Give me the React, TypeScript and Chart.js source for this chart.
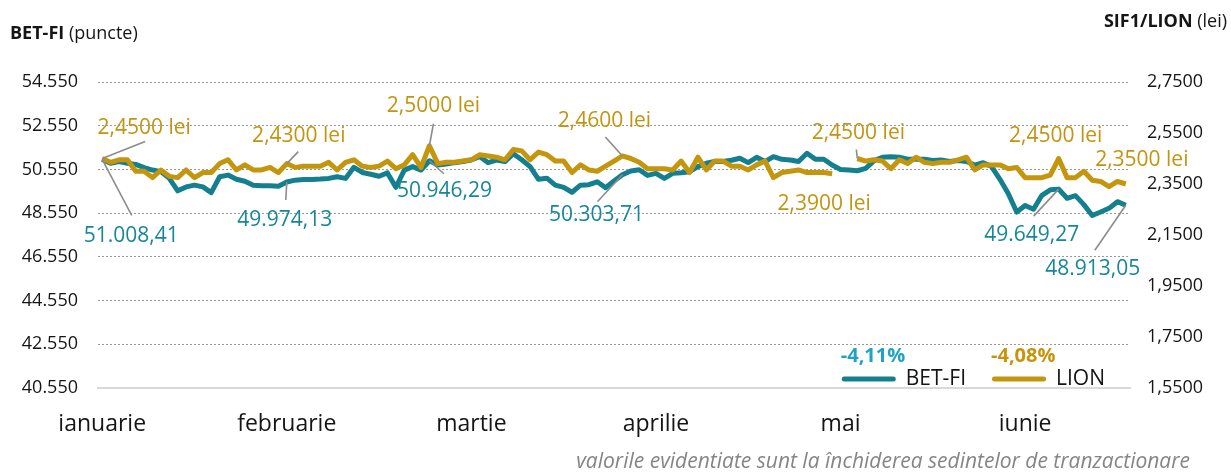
import React, { useEffect, useRef } from 'react';
import { Chart, registerables } from 'chart.js';

Chart.register(...registerables);

const FONT = '"Open Sans", "Noto Sans", sans-serif';

// ---------- data ----------
const monthLabels = ['ianuarie', 'februarie', 'martie', 'aprilie', 'mai', 'iunie'];
const monthTickIndex = [0, 22, 44, 66, 88, 110];

const leftTickValues = [40550, 42550, 44550, 46550, 48550, 50550, 52550, 54550];
const rightTickValues = [1.55, 1.75, 1.95, 2.15, 2.35, 2.55, 2.75];

const betFi: number[] = [
  51008.41, 50830, 50910, 50830, 50780, 50630, 50520, 50450, 50140, 49570,
  49750, 49830, 49750, 49490, 50215, 50290, 50100, 50010, 49830, 49800,
  49800, 49780, 49974.13, 50060, 50090, 50090, 50110, 50140, 50215, 50140,
  50645, 50410, 50330, 50240, 50390, 49730, 50520, 50680, 50520, 50946.29,
  50750, 50800, 50860, 50910, 50980, 51140, 50860, 50980, 50910, 51270,
  50990, 50680, 50100, 50150, 49830, 49730, 49505, 49830, 49850, 49985,
  49715, 50020, 50303.71, 50480, 50535, 50275, 50370, 50140, 50370, 50400,
  50445, 50680, 50830, 50910, 50910, 50970, 51060, 50860, 51105, 50910,
  51135, 51015, 50980, 50910, 51290, 51015, 51015, 50750, 50550, 50520,
  50490, 50600, 50955, 51105, 51135, 51105, 51015, 51015, 51015, 50955,
  50980, 50910, 50955, 50910, 50750, 50860, 50680, 50100, 49440, 48600,
  48900, 48730, 49365, 49615, 49649.27, 49230, 49350, 48940, 48440, 48600,
  48770, 49075, 48913.05,
];

const lion: (number | null)[] = [
  2.45, 2.435, 2.445, 2.445, 2.4, 2.4, 2.375, 2.405, 2.38, 2.375,
  2.405, 2.375, 2.395, 2.395, 2.43, 2.445, 2.405, 2.425, 2.405, 2.405,
  2.415, 2.395, 2.43, 2.415, 2.42, 2.42, 2.42, 2.435, 2.405, 2.435,
  2.445, 2.42, 2.415, 2.42, 2.44, 2.41, 2.425, 2.465, 2.415, 2.5,
  2.43, 2.435, 2.435, 2.44, 2.445, 2.465, 2.46, 2.455, 2.445, 2.485,
  2.48, 2.445, 2.475, 2.465, 2.44, 2.44, 2.395, 2.425, 2.405, 2.4,
  2.42, 2.44, 2.46, 2.45, 2.435, 2.41, 2.41, 2.41, 2.405, 2.44,
  2.395, 2.455, 2.405, 2.44, 2.44, 2.42, 2.42, 2.405, 2.425, 2.44,
  2.375, 2.395, 2.4, 2.405, 2.395, 2.395, 2.395, 2.39, null, null,
  2.45, 2.44, 2.445, 2.44, 2.41, 2.445, 2.43, 2.455, 2.435, 2.43,
  2.435, 2.435, 2.445, 2.455, 2.405, 2.425, 2.425, 2.425, 2.41, 2.415,
  2.375, 2.375, 2.375, 2.385, 2.45, 2.375, 2.375, 2.4, 2.365, 2.36,
  2.34, 2.36, 2.35,
];

const seriesNames = ['BET-FI', 'LION'];
const footerText = 'valorile evidentiate sunt la închiderea sedintelor de tranzactionare';

const COLORS = {
  bet: '#14808F',
  lion: '#C4960E',
  betText: '#178798',
  lionText: '#C39410',
  betPct: '#1FA3C4',
  lionPct: '#C8940C',
  leader: '#8C8C8C',
  text: '#151515',
};

// annotation anchors: dataset, point index, label offset and leader end (px from point)
type Ann = { ds: 0 | 1; idx: number; dx: number; dy: number; lead?: [number, number] };
const annotations: Ann[] = [
  { ds: 1, idx: 0, dx: 42, dy: -30, lead: [43, -17] },
  { ds: 0, idx: 0, dx: 29, dy: 77, lead: [29.5, 56] },
  { ds: 1, idx: 22, dx: 12, dy: -28, lead: [11.5, -12] },
  { ds: 0, idx: 22, dx: -2, dy: 38, lead: [-1, 18] },
  { ds: 1, idx: 39, dx: 4, dy: -40, lead: [4, -22] },
  { ds: 0, idx: 39, dx: 15, dy: 30, lead: [14.5, 13] },
  { ds: 1, idx: 62, dx: -18, dy: -35, lead: [-17, -19] },
  { ds: 0, idx: 62, dx: -26, dy: 40, lead: [-25, 27] },
  { ds: 1, idx: 87, dx: -8, dy: 30 },
  { ds: 1, idx: 90, dx: 1, dy: -25, lead: [-1, -9] },
  { ds: 1, idx: 114, dx: -3, dy: -22 },
  { ds: 1, idx: 122, dx: 16, dy: -24 },
  { ds: 0, idx: 114, dx: -27, dy: 46, lead: [-25, 27] },
  { ds: 0, idx: 122, dx: -33, dy: 64, lead: [-31, 45] },
];

// ---------- helpers ----------
function fmtNum(v: number, d: number): string {
  const [i, f] = v.toFixed(d).split('.');
  const ii = i.replace(/\B(?=(\d{3})+(?!\d))/g, '.');
  return f ? ii + ',' + f : ii;
}
function pct(arr: (number | null)[]): string {
  const vals = arr.filter((v) => v !== null) as number[];
  const p = (vals[vals.length - 1] / vals[0] - 1) * 100;
  return p.toFixed(2).replace('.', ',') + '%';
}

const overlayPlugin = {
  id: 'overlay',
  afterDatasetsDraw(chart: any) {
    const ctx: CanvasRenderingContext2D = chart.ctx;
    ctx.save();
    for (const a of annotations) {
      const pt = chart.getDatasetMeta(a.ds).data[a.idx];
      if (!pt) continue;
      const px = pt.x;
      const py = pt.y;
      if (a.lead) {
        ctx.strokeStyle = COLORS.leader;
        ctx.lineWidth = 1.6;
        ctx.setLineDash([]);
        ctx.beginPath();
        ctx.moveTo(px, py);
        ctx.lineTo(px + a.lead[0], py + a.lead[1]);
        ctx.stroke();
      }
      const v = a.ds === 0 ? betFi[a.idx] : (lion[a.idx] as number);
      const txt = a.ds === 0 ? fmtNum(v, 2) : fmtNum(v, 4) + ' lei';
      ctx.font = `21px ${FONT}`;
      ctx.fillStyle = a.ds === 0 ? COLORS.betText : COLORS.lionText;
      ctx.textAlign = 'center';
      ctx.textBaseline = 'middle';
      ctx.fillText(txt, px + a.dx, py + a.dy);
    }
    ctx.restore();
  },
  afterDraw(chart: any) {
    const ctx: CanvasRenderingContext2D = chart.ctx;
    const area = chart.chartArea;
    ctx.save();
    ctx.textBaseline = 'alphabetic';

    // axis titles
    ctx.fillStyle = COLORS.text;
    ctx.textAlign = 'left';
    ctx.font = `bold 18px ${FONT}`;
    ctx.fillText('BET-FI', 10, 39);
    const w1 = ctx.measureText('BET-FI').width;
    ctx.font = `18px ${FONT}`;
    ctx.fillText(' (puncte)', 10 + w1, 39);

    ctx.font = `bold 18px ${FONT}`;
    const wb = ctx.measureText('SIF1/LION').width;
    ctx.font = `18px ${FONT}`;
    const wr = ctx.measureText(' (lei)').width;
    const startR = 1227 - wb - wr;
    ctx.font = `bold 18px ${FONT}`;
    ctx.fillText('SIF1/LION', startR, 27);
    ctx.font = `18px ${FONT}`;
    ctx.fillText(' (lei)', startR + wb, 27);

    // legend with percentages
    const items = [
      { label: seriesNames[0], color: COLORS.bet, pct: pct(betFi), pctColor: COLORS.betPct },
      { label: seriesNames[1], color: COLORS.lion, pct: pct(lion), pctColor: COLORS.lionPct },
    ];
    const sample = 54;
    const gap1 = 10;
    const gap2 = 26;
    ctx.font = `21px ${FONT}`;
    let total = 0;
    items.forEach((it, k) => {
      total += sample + gap1 + ctx.measureText(it.label).width + (k < items.length - 1 ? gap2 : 0);
    });
    let x = area.right - 25 - total;
    const ly = area.bottom - 9;
    items.forEach((it) => {
      ctx.strokeStyle = it.color;
      ctx.lineWidth = 5;
      ctx.lineCap = 'round';
      ctx.beginPath();
      ctx.moveTo(x + 2.5, ly);
      ctx.lineTo(x + sample - 2.5, ly);
      ctx.stroke();
      ctx.textAlign = 'left';
      ctx.textBaseline = 'middle';
      ctx.font = `bold 20px ${FONT}`;
      ctx.fillStyle = it.pctColor;
      ctx.fillText(it.pct, x - 1, ly - 22.5);
      ctx.font = `21px ${FONT}`;
      ctx.fillStyle = COLORS.text;
      ctx.fillText(it.label, x + sample + gap1, ly);
      x += sample + gap1 + ctx.measureText(it.label).width + gap2;
    });

    // footer
    ctx.font = `italic 21px ${FONT}`;
    ctx.fillStyle = '#858585';
    ctx.textAlign = 'right';
    ctx.textBaseline = 'alphabetic';
    ctx.fillText(footerText, 1190, 468);
    ctx.restore();
  },
};

export default function App() {
  const ref = useRef<HTMLCanvasElement>(null);
  useEffect(() => {
    if (!ref.current) return;
    Chart.defaults.font.family = FONT;
    Chart.defaults.color = COLORS.text;
    const chart = new Chart(ref.current, {
      type: 'line',
      data: {
        datasets: [
          {
            label: seriesNames[0],
            data: betFi.map((v, i) => ({ x: i, y: v })),
            yAxisID: 'y',
            borderColor: COLORS.bet,
            borderWidth: 5,
            pointRadius: 0,
            tension: 0,
            borderJoinStyle: 'round',
            order: 2,
          },
          {
            label: seriesNames[1],
            data: lion.map((v, i) => ({ x: i, y: v })),
            yAxisID: 'y1',
            borderColor: COLORS.lion,
            borderWidth: 5,
            pointRadius: 0,
            tension: 0,
            borderJoinStyle: 'round',
            spanGaps: false,
            order: 1,
          },
        ],
      },
      options: {
        animation: false,
        responsive: false,
        layout: { padding: { top: 82, left: 0, right: 0, bottom: 0 } },
        plugins: { legend: { display: false }, tooltip: { enabled: false } },
        scales: {
          x: {
            type: 'linear',
            min: -0.5,
            max: betFi.length - 0.5,
            grid: { display: false, drawTicks: false },
            border: { display: true, color: '#d9d9d9', width: 2 },
            afterBuildTicks: (s: any) => {
              s.ticks = monthTickIndex.map((v) => ({ value: v }));
            },
            afterFit: (s: any) => {
              s.height = 84;
            },
            ticks: {
              autoSkip: false,
              maxRotation: 0,
              minRotation: 0,
              padding: 23,
              color: COLORS.text,
              font: { size: 23 },
              callback: (v: any) => monthLabels[monthTickIndex.indexOf(Number(v))] ?? '',
            },
          },
          y: {
            position: 'left',
            min: leftTickValues[0],
            max: leftTickValues[leftTickValues.length - 1],
            afterBuildTicks: (s: any) => {
              s.ticks = leftTickValues.map((v) => ({ value: v }));
            },
            afterFit: (s: any) => {
              s.width = 98;
            },
            grid: {
              drawTicks: false,
              lineWidth: 1,
              color: (c: any) =>
                c.tick && c.tick.value === leftTickValues[0] ? 'rgba(0,0,0,0)' : '#9a9a9a',
            },
            border: { display: false, dash: [2, 2] },
            ticks: {
              padding: 20,
              color: COLORS.text,
              font: { size: 18 },
              callback: (v: any) => fmtNum(Number(v), 0),
            },
          },
          y1: {
            position: 'right',
            min: rightTickValues[0],
            max: rightTickValues[rightTickValues.length - 1],
            afterBuildTicks: (s: any) => {
              s.ticks = rightTickValues.map((v) => ({ value: v }));
            },
            afterFit: (s: any) => {
              s.width = 101;
            },
            grid: { display: false, drawTicks: false },
            border: { display: false },
            ticks: {
              padding: 17,
              color: COLORS.text,
              font: { size: 18 },
              callback: (v: any) => Number(v).toFixed(4).replace('.', ','),
            },
          },
        },
      } as any,
      plugins: [overlayPlugin],
    });
    return () => chart.destroy();
  }, []);

  return (
    <div style={{ position: 'absolute', left: 0, top: 0, width: 1231, height: 472, background: '#fff' }}>
      <canvas ref={ref} width={1231} height={472} style={{ display: 'block', width: 1231, height: 472 }} />
    </div>
  );
}
